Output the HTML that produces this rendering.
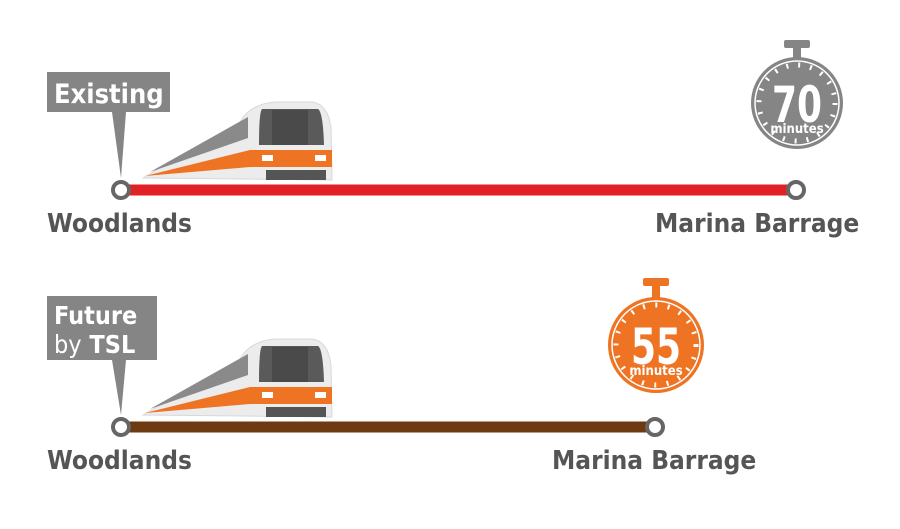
<!DOCTYPE html>
<html><head><meta charset="utf-8"><style>
html,body{margin:0;padding:0;background:#fff;}
svg{display:block;}
text{font-family:"DejaVu Sans Condensed","Liberation Sans",sans-serif;font-weight:bold;}
</style></head><body>
<svg width="900" height="529" viewBox="0 0 900 529" xmlns="http://www.w3.org/2000/svg">
<defs>
<g id="train">
  <path d="M143,178 L240,122 Q250,104 275,102 L312,102 Q328,104 331,128 L332,180 Z" fill="#ececec"/>
  <path d="M143,178 L240,122 Q250,104 275,102 L312,102 Q328,104 331,128 L332,180 Z" fill="none" stroke="#d8d8d8" stroke-width="1"/>
  <path d="M262,109 L318,109 Q323,112 324,145 L259,145 Q259,112 262,109 Z" fill="#5a5a5a"/>
  <rect x="272" y="110" width="36" height="35" fill="#4a4a4a"/>
  <path d="M150,172 L248,117 L248,138 Z" fill="#8a8a8a"/>
  <path d="M145,176 L250,150 L332,150 L332,167 L250,167 Z" fill="#ee7423"/>
  <rect x="262" y="155" width="11" height="6" fill="#fff"/>
  <rect x="315" y="155" width="11" height="6" fill="#fff"/>
  <rect x="266" y="170" width="60" height="10" fill="#555"/>
</g>
</defs>

<!-- Existing -->
<rect x="47" y="72" width="123" height="40" fill="#858585"/>
<text x="54" y="103" font-size="27" fill="#fff">Existing</text>
<polygon points="112,112 126,112 121,178" fill="#858585"/>
<use href="#train"/>
<line x1="122" y1="190" x2="796" y2="190" stroke="#e02226" stroke-width="11"/>
<circle cx="121" cy="190" r="8" fill="#fff" stroke="#666" stroke-width="4"/>
<circle cx="796" cy="190" r="8" fill="#fff" stroke="#666" stroke-width="4"/>
<text x="47" y="232" font-size="26" fill="#555">Woodlands</text>
<text x="655" y="232" font-size="26" fill="#555">Marina Barrage</text>

<!-- gray stopwatch -->
<rect x="784" y="40" width="26" height="8" rx="2" fill="#858585"/>
<rect x="793" y="46" width="8" height="12" fill="#858585"/>
<circle cx="797" cy="103" r="46" fill="#858585"/>
<circle cx="797" cy="103" r="42" fill="none" stroke="#fff" stroke-width="1.5"/>
<circle cx="797" cy="103" r="38" fill="none" stroke="#fff" stroke-width="5" stroke-dasharray="2 10"/>
<text transform="translate(797,122) scale(0.8,1)" font-size="50" fill="#fff" text-anchor="middle">70</text>
<text x="797" y="133" font-size="13" fill="#fff" text-anchor="middle">minutes</text>

<!-- Future -->
<rect x="47" y="296" width="110" height="64" fill="#858585"/>
<text x="54" y="324" font-size="25" fill="#fff">Future</text>
<text x="54" y="353" font-size="25" fill="#fff"><tspan font-weight="normal">by</tspan> TSL</text>
<polygon points="112,360 126,360 121,415" fill="#858585"/>
<use href="#train" transform="translate(0,237)"/>
<line x1="122" y1="427" x2="655" y2="427" stroke="#6e3a12" stroke-width="11"/>
<circle cx="121" cy="427" r="8" fill="#fff" stroke="#666" stroke-width="4"/>
<circle cx="655" cy="427" r="8" fill="#fff" stroke="#666" stroke-width="4"/>
<text x="47" y="469" font-size="26" fill="#555">Woodlands</text>
<text x="552" y="469" font-size="26" fill="#555">Marina Barrage</text>

<!-- orange stopwatch -->
<rect x="643" y="278" width="26" height="8" rx="2" fill="#ee7423"/>
<rect x="652" y="284" width="8" height="14" fill="#ee7423"/>
<circle cx="656" cy="345" r="48" fill="#ee7423"/>
<circle cx="656" cy="345" r="44" fill="none" stroke="#fff" stroke-width="1.5"/>
<circle cx="656" cy="345" r="40" fill="none" stroke="#fff" stroke-width="5" stroke-dasharray="2 10.5"/>
<text transform="translate(656,364) scale(0.8,1)" font-size="50" fill="#fff" text-anchor="middle">55</text>
<text x="656" y="375" font-size="13" fill="#fff" text-anchor="middle">minutes</text>
</svg>
</body></html>
